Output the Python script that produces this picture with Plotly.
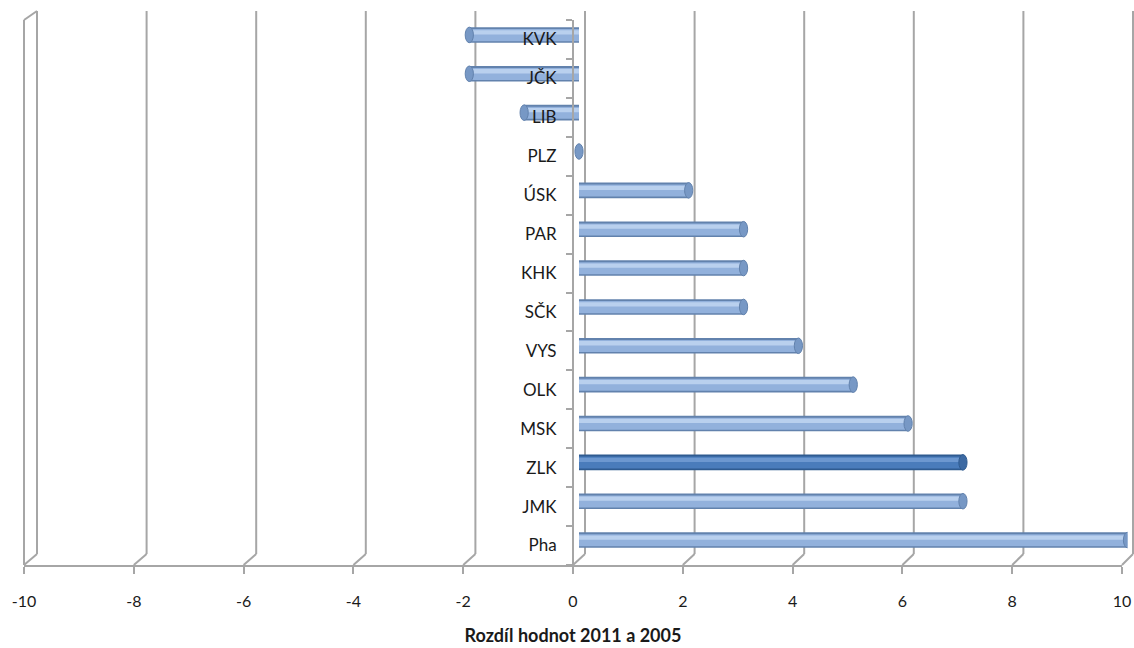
import plotly.graph_objects as go

# ---- data ----
categories = ["Pha", "JMK", "ZLK", "MSK", "OLK", "VYS", "SČK", "KHK", "PAR", "ÚSK", "PLZ", "LIB", "JČK", "KVK"]
values = [10, 7, 7, 6, 5, 4, 3, 3, 3, 2, 0, -1, -2, -2]
highlight_cat = "ZLK"
x_ticks = [-10, -8, -6, -4, -2, 0, 2, 4, 6, 8, 10]
x_title = "Rozdíl hodnot 2011 a 2005"

PAGE_OFF = 0  # body margin removed by post_script
W, H = 1134, 648
def fx(px): return (px - PAGE_OFF) / W
def fy(py): return 1 - (py - PAGE_OFF) / H

# pixel boxes (window coords): front plane, middle (bars), back plane
FRONT = dict(x0=24, x1=1122, y0=20, y1=565)
BACK = dict(x0=37, x1=1133, y0=11, y1=554)
MID = dict(x0=30.5, x1=1127.5, y0=15.5, y1=559.5)

GRID = "#a6a6a6"
FONT = "Lato"
XR = [-10, 10]
YR = [-0.5, len(categories) - 0.5]

light = dict(edge="#6282ad", body="#92b1dc", hi="#b9d0ee", cap="#7798c5")
dark = dict(edge="#2f5b90", body="#4a7cbb", hi="#6d98d0", cap="#3d6aa3")
pal = [dark if c == highlight_cat else light for c in categories]

fig = go.Figure()

# back subplot (gridlines only)
fig.add_trace(go.Scatter(x=[], y=[], xaxis="x", yaxis="y", showlegend=False, hoverinfo="skip"))

# bars: cylinder imitation with layered bars
fig.add_trace(go.Bar(x=values, y=categories, orientation="h", xaxis="x2", yaxis="y2",
                     width=0.4, marker=dict(color=[p["edge"] for p in pal], line_width=0),
                     showlegend=False, hoverinfo="skip"))
fig.add_trace(go.Bar(x=values, y=categories, orientation="h", xaxis="x2", yaxis="y2",
                     width=0.31, offset=-0.16, marker=dict(color=[p["body"] for p in pal], line_width=0),
                     showlegend=False, hoverinfo="skip"))
fig.add_trace(go.Bar(x=values, y=categories, orientation="h", xaxis="x2", yaxis="y2",
                     width=0.11, offset=0.01, marker=dict(color=[p["hi"] for p in pal], line_width=0),
                     showlegend=False, hovertemplate="%{y}: %{x}<extra></extra>"))

# front subplot (axes & labels)
fig.add_trace(go.Scatter(x=values, y=categories, xaxis="x3", yaxis="y3", mode="markers",
                         marker=dict(opacity=0), showlegend=False, hoverinfo="skip"))

shapes = []
# bar end caps
for i, (c, v) in enumerate(zip(categories, values)):
    p = pal[i]
    shapes.append(dict(type="circle", xref="x2", yref="y2", layer="above",
                       x0=v - 0.075, x1=v + 0.075, y0=i - 0.2, y1=i + 0.2,
                       fillcolor=p["cap"], line=dict(color=p["edge"], width=1)))

# floor connectors (front tick -> back gridline)
def xpix(v, box):
    return box["x0"] + (v - XR[0]) / (XR[1] - XR[0]) * (box["x1"] - box["x0"])

for t in x_ticks:
    shapes.append(dict(type="line", xref="paper", yref="paper",
                       x0=fx(xpix(t, FRONT)), y0=fy(FRONT["y1"]),
                       x1=fx(xpix(t, BACK)), y1=fy(BACK["y1"]),
                       line=dict(color=GRID, width=2)))
# left wall front edge + top edge
shapes.append(dict(type="line", xref="paper", yref="paper",
                   x0=fx(FRONT["x0"]), y0=fy(FRONT["y1"]), x1=fx(FRONT["x0"]), y1=fy(FRONT["y0"]),
                   line=dict(color=GRID, width=2)))
shapes.append(dict(type="line", xref="paper", yref="paper",
                   x0=fx(FRONT["x0"]), y0=fy(FRONT["y0"]), x1=fx(BACK["x0"]), y1=fy(BACK["y0"]),
                   line=dict(color=GRID, width=2)))
# back gridlines (incl. edges)
for t in x_ticks:
    shapes.append(dict(type="line", xref="paper", yref="paper", layer="below",
                       x0=fx(xpix(t, BACK)), y0=fy(BACK["y1"]), x1=fx(xpix(t, BACK)), y1=fy(BACK["y0"]),
                       line=dict(color=GRID, width=2)))

hidden = dict(visible=False, showgrid=False, zeroline=False, automargin=False)

fig.update_layout(
    width=W, height=H,
    margin=dict(l=0, r=0, t=0, b=0, autoexpand=False),
    paper_bgcolor="white", plot_bgcolor="rgba(0,0,0,0)",
    barmode="overlay",
    font=dict(family=FONT, color="#1a1a1a"),
    shapes=shapes,
    xaxis=dict(domain=[fx(BACK["x0"]), min(1, fx(BACK["x1"]))], range=XR, anchor="y", **hidden),
    yaxis=dict(domain=[fy(BACK["y1"]), fy(BACK["y0"])], range=[0, 1], anchor="x", **hidden),
    xaxis2=dict(domain=[fx(MID["x0"]), min(1, fx(MID["x1"]))], range=XR, anchor="y2", **hidden),
    yaxis2=dict(domain=[fy(MID["y1"]), fy(MID["y0"])], range=YR, anchor="x2", type="category",
                categoryorder="array", categoryarray=categories, **hidden),
    xaxis3=dict(domain=[fx(FRONT["x0"]), fx(FRONT["x1"])], range=XR, anchor="y3", automargin=False,
                tickmode="array", tickvals=x_ticks, ticktext=[str(t) for t in x_ticks],
                ticks="outside", ticklen=7, tickwidth=2, tickcolor=GRID,
                showline=True, linecolor=GRID, linewidth=2, showgrid=False, zeroline=False,
                tickfont=dict(size=16, color="#1a1a1a"), ticklabelstandoff=14,
                title=dict(text="<b>" + x_title + "</b>", font=dict(size=18, color="#1a1a1a"), standoff=20)),
    yaxis3=dict(domain=[fy(FRONT["y1"]), fy(FRONT["y0"])], range=YR, type="category", automargin=False,
                categoryorder="array", categoryarray=categories,
                anchor="free", position=fx(xpix(0, FRONT)),
                ticks="outside", ticklen=6, tickwidth=2, tickcolor=GRID, tickson="boundaries",
                showline=True, linecolor=GRID, linewidth=2, showgrid=False, zeroline=False,
                tickfont=dict(size=17, color="#1a1a1a"), ticklabelstandoff=12),
)

fig.write_html("out.html", config={"displayModeBar": False},
               post_script="document.body.style.margin='0';document.body.style.overflow='hidden';")
